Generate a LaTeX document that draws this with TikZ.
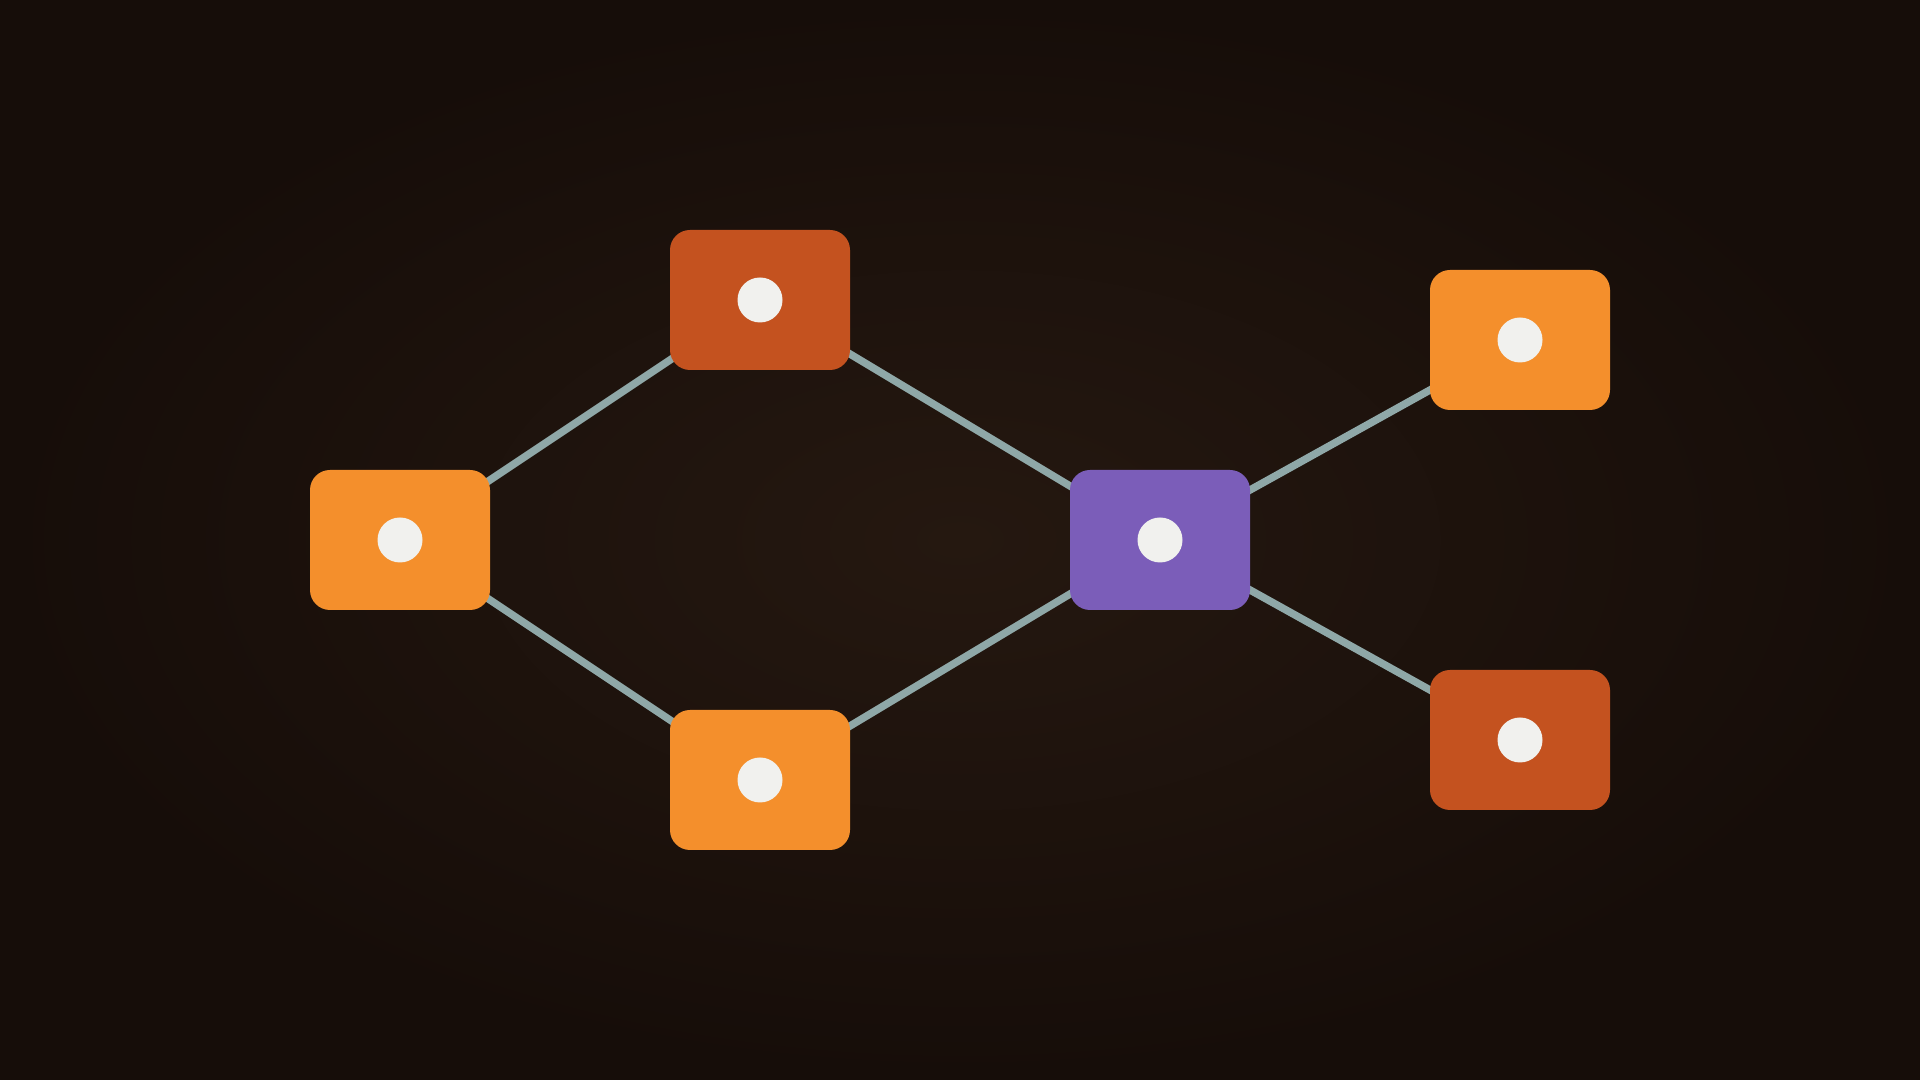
\documentclass[tikz,border=0pt]{standalone}
\usepackage{tikz}
\usetikzlibrary{backgrounds}
\definecolor{bgin}{HTML}{251810}
\definecolor{bgout}{HTML}{160D09}
\definecolor{orangebox}{HTML}{F48F2C}
\definecolor{rustbox}{HTML}{C4521F}
\definecolor{purplebox}{HTML}{7B5DB9}
\definecolor{linkgray}{HTML}{8FA8A8}
\definecolor{dotwhite}{HTML}{F1F1EE}
\begin{document}
\begin{tikzpicture}[
	box/.style={rectangle, rounded corners=0.2cm, minimum width=1.8cm, minimum height=1.4cm, inner sep=0pt},
	link/.style={line width=0.075cm, linkgray},
	dot/.style={circle, fill=dotwhite, minimum size=0.45cm, inner sep=0pt}]
	\useasboundingbox (0,0) rectangle (19.2,10.8);
	\node[box, fill=orangebox] (left) at (4.0,5.4) {};
	\node[box, fill=rustbox] (top) at (7.6,7.8) {};
	\node[box, fill=orangebox] (bottom) at (7.6,3.0) {};
	\node[box, fill=purplebox] (hub) at (11.6,5.4) {};
	\node[box, fill=orangebox] (topright) at (15.2,7.4) {};
	\node[box, fill=rustbox] (bottomright) at (15.2,3.4) {};
	\foreach \n in {left,top,bottom,hub,topright,bottomright}
		\node[dot] (\n-dot) at (\n.center) {};
	\begin{scope}[on background layer]
		\shade[inner color=bgin, outer color=bgout] (0,0) rectangle (19.2,10.8);
		\draw[link] (left.center) -- (top.center);
		\draw[link] (left.center) -- (bottom.center);
		\draw[link] (top.center) -- (hub.center);
		\draw[link] (bottom.center) -- (hub.center);
		\draw[link] (hub.center) -- (topright.center);
		\draw[link] (hub.center) -- (bottomright.center);
	\end{scope}
\end{tikzpicture}
\end{document}
